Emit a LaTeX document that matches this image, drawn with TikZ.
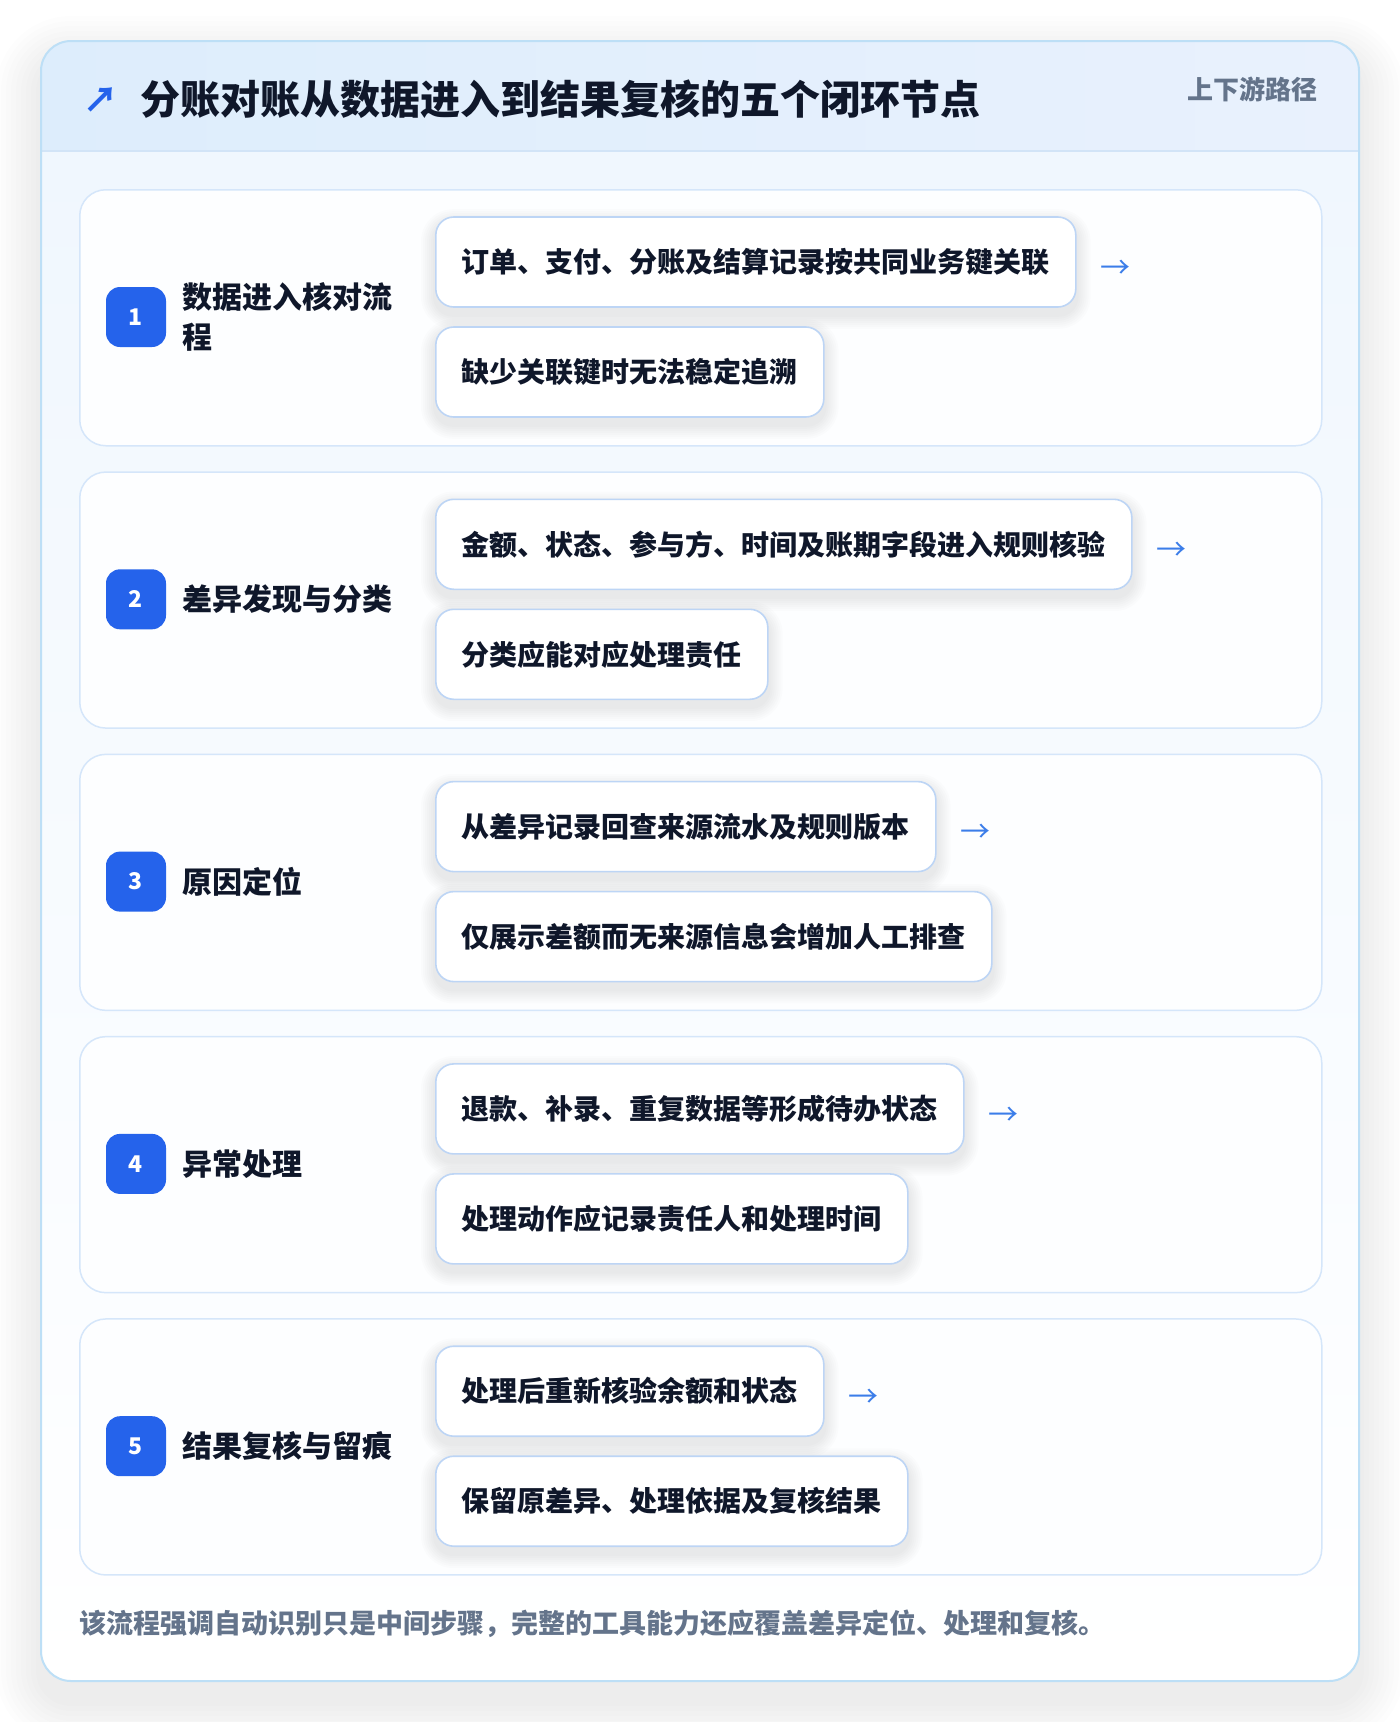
\documentclass[tikz,border=0pt]{standalone}
\usepackage{fontspec}
\setmainfont{Noto Sans CJK SC}
\pgfdeclarelayer{back}
\pgfdeclarelayer{rows}
\pgfdeclarelayer{shades}
\pgfsetlayers{back,rows,shades,main}
\definecolor{cardborder}{HTML}{BDDFF6}
\definecolor{headL}{HTML}{DDEDFC}
\definecolor{headR}{HTML}{E9F1FD}
\definecolor{headline}{HTML}{D2E4F7}
\definecolor{bodytop}{HTML}{F0F7FE}
\definecolor{rowborder}{HTML}{D5E6FA}
\definecolor{rowfill}{HTML}{FDFEFF}
\definecolor{itemborder}{HTML}{BDD5F5}
\definecolor{badgeblue}{HTML}{2563EB}
\definecolor{ink}{HTML}{0F172A}
\definecolor{muted}{HTML}{64748B}
\definecolor{arrowc}{HTML}{3B7DE9}
\definecolor{shadowc}{HTML}{1E293B}
\tikzset{
  rowcard/.style={draw=rowborder, line width=1.5pt, fill=rowfill, rounded corners=26pt, minimum width=1242pt, minimum height=256pt, inner sep=0pt, anchor=north west},
  itembox/.style={draw=itemborder, line width=1.6pt, fill=white, rounded corners=18pt, minimum height=90pt, inner xsep=26pt, inner ysep=0pt, anchor=west, text=ink,
    font=\bfseries\fontsize{28}{34}\selectfont},
  badgebox/.style={fill=badgeblue, rounded corners=14pt, minimum width=60pt, minimum height=60pt, inner sep=0pt, text=white, font=\bfseries\fontsize{23}{28}\selectfont},
  steplabel/.style={anchor=west, inner sep=0pt, text=ink, align=left, font=\bfseries\fontsize{30}{40}\selectfont},
  flowarrow/.style={anchor=west, inner sep=0pt, text=arrowc, font=\fontsize{30}{30}\selectfont},
  shadelayer/.style={fill=shadowc, opacity=0.011},
}
\newcommand\boxshadow[1]{%
  \begin{pgfonlayer}{shades}
  \foreach \k in {1,...,7}{
    \fill[shadelayer, rounded corners={(18+2*\k)*1pt}]
      ([xshift={-2*\k}, yshift={-7-2*\k}]#1.south west) rectangle ([xshift={2*\k}, yshift={-7+2*\k}]#1.north east);
  }
  \end{pgfonlayer}%
}
\newcommand\steprow[4]{%
  \pgfmathsetmacro\rowT{189+282.3*(#1-1)}%
  \begin{pgfonlayer}{rows}
  \node[rowcard] (row#1) at (79,\rowT) {};
  \end{pgfonlayer}
  \node[badgebox] (badge#1) at (136,\rowT+128) {#1};
  \node[steplabel] (label#1) at (182,\rowT+128) {#2};
  \node[itembox] (itemA#1) at (435,\rowT+73) {#3};
  \node[itembox] (itemB#1) at (435,\rowT+183) {#4};
  \boxshadow{itemA#1}
  \boxshadow{itemB#1}
  \node[flowarrow] (arrow#1) at ([xshift=24pt,yshift=-7pt]itemA#1.east) {→};
}
\begin{document}
\begin{tikzpicture}[x=1pt,y=-1pt]
\useasboundingbox (0,0) rectangle (1400,1722);
\begin{pgfonlayer}{back}
\fill[white] (0,0) rectangle (1400,1722);
\foreach \k in {1,...,9}{
  \fill[fill=shadowc, opacity=0.009, rounded corners={(30+5*\k)*1pt}]
    ({41-5*\k},{41+20-5*\k}) rectangle ({1359+5*\k},{1681+20+5*\k});
}
\fill[white, rounded corners=30pt] (41,41) rectangle (1359,1681);
\begin{scope}
  \clip[rounded corners=30pt] (41,41) rectangle (1359,1681);
  \shade[left color=headL, right color=headR] (41,41) rectangle (1359,151);
  \shade[top color=bodytop, bottom color=white] (41,151) rectangle (1359,1681);
\end{scope}
\draw[headline, line width=1.5pt] (41,151) -- (1359,151);
\draw[cardborder, line width=2pt, rounded corners=30pt] (41,41) rectangle (1359,1681);
\end{pgfonlayer}

\node[text=badgeblue, inner sep=0pt, font=\bfseries\fontsize{35}{35}\selectfont] (icon) at (101,100) {↗};
\node[anchor=west, inner sep=0pt, text=ink, font=\bfseries\fontsize{40}{48}\selectfont] (title) at (140,99) {分账对账从数据进入到结果复核的五个闭环节点};
\node[anchor=east, inner sep=0pt, text=muted, font=\bfseries\fontsize{26}{30}\selectfont] (tag) at (1318,89) {上下游路径};

\steprow{1}{数据进入核对流\\程}{订单、支付、分账及结算记录按共同业务键关联}{缺少关联键时无法稳定追溯}
\steprow{2}{差异发现与分类}{金额、状态、参与方、时间及账期字段进入规则核验}{分类应能对应处理责任}
\steprow{3}{原因定位}{从差异记录回查来源流水及规则版本}{仅展示差额而无来源信息会增加人工排查}
\steprow{4}{异常处理}{退款、补录、重复数据等形成待办状态}{处理动作应记录责任人和处理时间}
\steprow{5}{结果复核与留痕}{处理后重新核验余额和状态}{保留原差异、处理依据及复核结果}

\node[anchor=west, inner sep=0pt, text=muted, font=\bfseries\fontsize{27}{32}\selectfont] (note) at (79,1624) {该流程强调自动识别只是中间步骤，完整的工具能力还应覆盖差异定位、处理和复核。};
\end{tikzpicture}
\end{document}
